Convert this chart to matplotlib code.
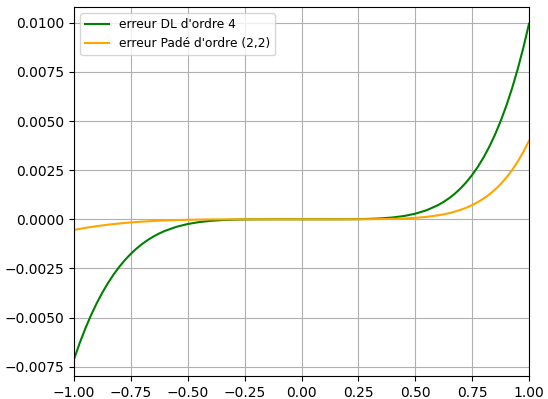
import numpy as np
import matplotlib
matplotlib.use("Agg")
import matplotlib.pyplot as plt

x_vals = [
    -1.0, -0.975, -0.95, -0.925, -0.9, -0.875, -0.85, -0.825, -0.8, -0.775,
    -0.75, -0.725, -0.7, -0.675, -0.65, -0.625, -0.6,
    -0.55, -0.5, -0.45, -0.4, -0.35, -0.3, -0.25, -0.2, -0.15, -0.1, -0.05,
    0.0, 0.05, 0.1, 0.15, 0.2, 0.25, 0.3, 0.35, 0.4, 0.45, 0.5, 0.55,
    0.6, 0.625, 0.65, 0.675, 0.7, 0.725, 0.75, 0.775, 0.8, 0.825,
    0.85, 0.875, 0.9, 0.925, 0.95, 0.975, 1.0,
]

err_dl = [
    -0.0071206, -0.0062973, -0.0055509, -0.0048762, -0.0042678, -0.0037211,
    -0.0032312, -0.0027937, -0.0024044, -0.0020593, -0.0017545, -0.0014867,
    -0.0012521, -0.0010480, -0.0008710, -0.0007188, -0.0005884,
    -0.0003838, -0.0002402, -0.0001429, -0.0000800, -0.0000413, -0.0000193,
    -0.0000078, -0.0000026, -0.0000006, -0.0000001, 0.0,
    0.0, 0.0, 0.0000001, 0.0000006, 0.0000028, 0.0000085, 0.0000213,
    0.0000465, 0.0000914, 0.0001661, 0.0002838, 0.0004611,
    0.0007188, 0.0008855, 0.0010822, 0.0013129, 0.0015819, 0.0018939,
    0.0022539, 0.0026676, 0.0031409, 0.0036802, 0.0042924, 0.0049849,
    0.0057656, 0.0066430, 0.0076261, 0.0087245, 0.0099485,
]

err_pade = [
    -0.0005417, -0.0004879, -0.0004381, -0.0003921, -0.0003496, -0.0003106,
    -0.0002748, -0.0002421, -0.0002123, -0.0001853, -0.0001609, -0.0001390,
    -0.0001193, -0.0001018, -0.0000862, -0.0000726, -0.0000605,
    -0.0000411, -0.0000267, -0.0000165, -0.0000096, -0.0000052, -0.0000025,
    -0.0000011, -0.0000004, -0.0000001, 0.0, 0.0,
    0.0, 0.0, 0.0, 0.0000001, 0.0000005, 0.0000017, 0.0000046,
    0.0000104, 0.0000214, 0.0000407, 0.0000726, 0.0001233,
    0.0002010, 0.0002532, 0.0003164, 0.0003925, 0.0004837, 0.0005923,
    0.0007210, 0.0008727, 0.0010511, 0.0012598, 0.0015032, 0.0017859,
    0.0021132, 0.0024911, 0.0029259, 0.0034249, 0.0039961,
]

labels = ["erreur DL d'ordre 4", "erreur Padé d'ordre (2,2)"]

fig = plt.figure(figsize=(5.48, 3.99), dpi=100)
ax = fig.add_axes([74 / 548, 1 - 376 / 399, (529 - 74) / 548, (376 - 7) / 399])
ax.plot(x_vals, err_dl, color="green", label=labels[0])
ax.plot(x_vals, err_pade, color="orange", label=labels[1])
ax.set_xlim(-1, 1)
ax.grid(True)
ax.legend(loc="upper left", fontsize=8.8)
fig.savefig("out.png", dpi=100)
